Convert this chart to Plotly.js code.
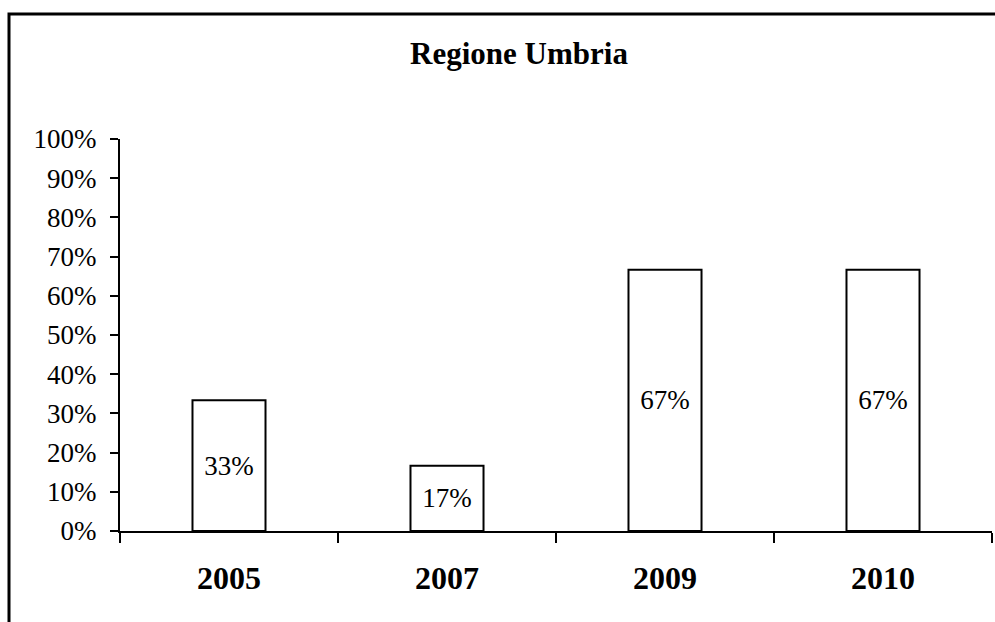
<!DOCTYPE html>
<html>
<head>
<meta charset="utf-8">
<script src="https://cdn.plot.ly/plotly-3.0.1.min.js"></script>
<style>html,body{margin:0;padding:0;background:#fff;}#chart{width:995px;height:622px;}</style>
</head>
<body>
<div id="chart"></div>
<script>
const years = ['2005', '2007', '2009', '2010'];
const shares = [0.3333, 0.1667, 0.6667, 0.6667];
const yTickVals = [0, 0.1, 0.2, 0.3, 0.4, 0.5, 0.6, 0.7, 0.8, 0.9, 1.0];
const chartTitle = 'Regione Umbria';

const FONT = '"Liberation Serif", "Times New Roman", serif';

const trace = {
  type: 'bar',
  x: years,
  y: shares,
  width: 0.335,
  marker: {color: '#ffffff', line: {color: '#000000', width: 2}},
  texttemplate: '%{y:.0%}',
  textposition: 'inside',
  insidetextanchor: 'middle',
  textangle: 0,
  textfont: {family: FONT, size: 27, color: '#000000'},
  hoverinfo: 'skip'
};

const layout = {
  width: 995,
  height: 622,
  paper_bgcolor: '#ffffff',
  plot_bgcolor: '#ffffff',
  margin: {l: 120, r: 3, t: 139, b: 91},
  showlegend: false,
  title: {
    text: '<b>' + chartTitle + '</b>',
    font: {family: FONT, size: 31, color: '#000000'},
    xref: 'container', yref: 'container',
    x: 519 / 995, xanchor: 'center',
    y: 1 - 53 / 622, yanchor: 'middle'
  },
  xaxis: {
    type: 'category',
    range: [-0.5, 3.5],
    showline: true, linecolor: '#000000', linewidth: 2,
    ticks: 'outside', tickson: 'boundaries', ticklen: 10, tickwidth: 2, tickcolor: '#000000',
    showgrid: false, zeroline: false,
    tickfont: {family: FONT, size: 32, color: '#000000', weight: 'bold'},
    ticklabelstandoff: 18
  },
  yaxis: {
    range: [0, 1],
    tickvals: yTickVals,
    tickformat: '.0%',
    showline: true, linecolor: '#000000', linewidth: 2,
    ticks: 'outside', ticklen: 8, tickwidth: 2, tickcolor: '#000000',
    showgrid: false, zeroline: false,
    tickfont: {family: FONT, size: 27, color: '#000000'},
    ticklabelstandoff: 8
  },
  shapes: [{
    type: 'rect', xref: 'paper', yref: 'paper', layer: 'below',
    x0: (9 - 120) / 872, x1: (1060 - 120) / 872,
    y0: (531 - 700) / 392, y1: (531 - 14) / 392,
    line: {color: '#000000', width: 3}, fillcolor: 'rgba(0,0,0,0)'
  }]
};

Plotly.newPlot('chart', [trace], layout, {displayModeBar: false, staticPlot: true});
</script>
</body>
</html>
